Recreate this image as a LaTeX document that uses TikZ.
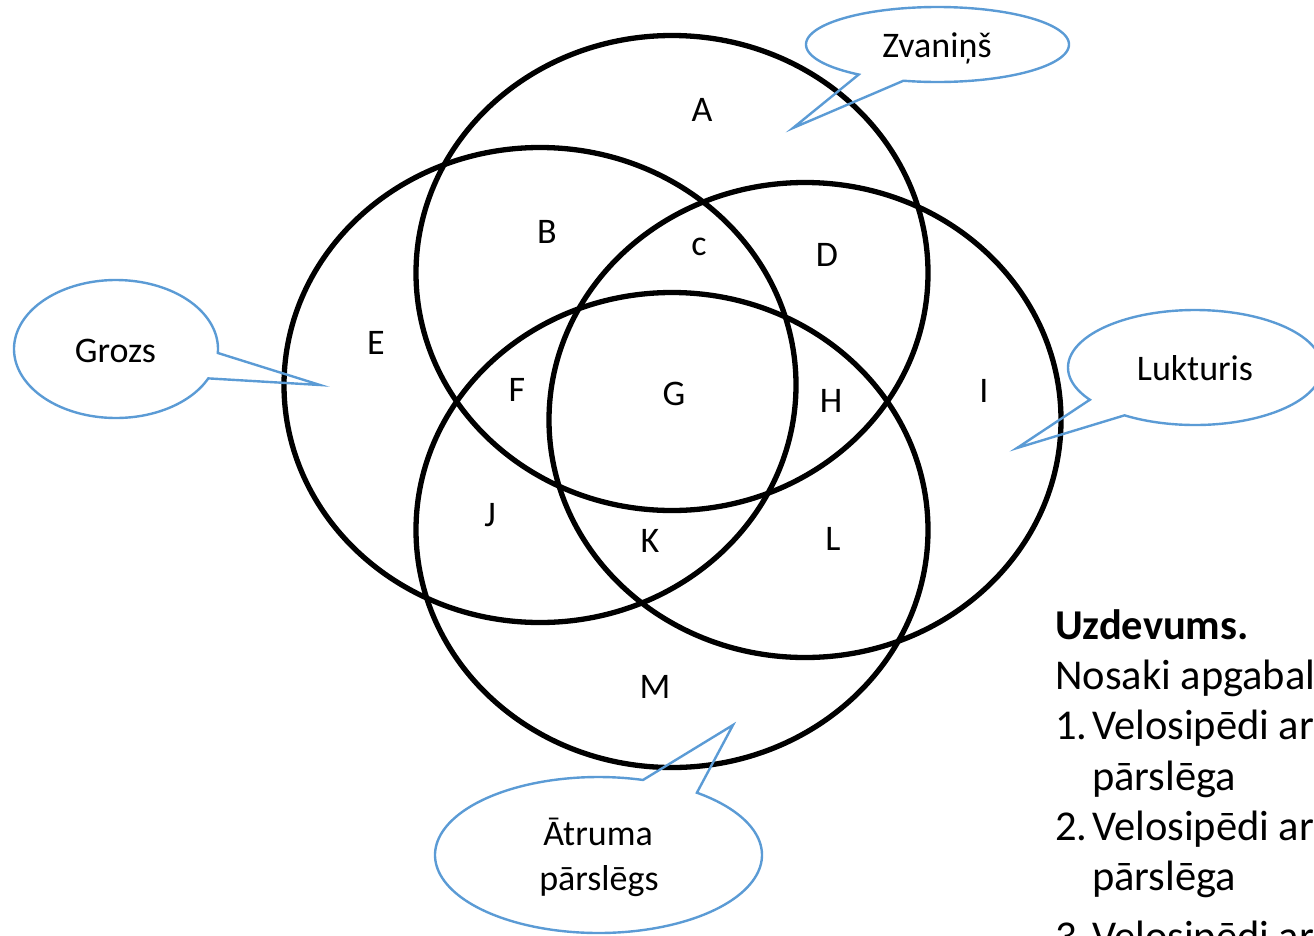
\documentclass[tikz,border=0pt]{standalone}
\usepackage{fontspec}
\setmainfont{Carlito}
\definecolor{callblue}{HTML}{5B9BD5}
\begin{document}
\begin{tikzpicture}[x=1pt,y=-1pt,
  venn/.style={line width=5.3pt,draw=black},
  bubble/.style={draw=callblue,line width=2.4pt,line join=miter},
  lbl/.style={anchor=base,inner sep=0pt,font=\fontsize{36}{43}\selectfont},
  task/.style={anchor=base west,inner sep=0pt,font=\fontsize{42.5}{50}\selectfont}]
\useasboundingbox (0,0) rectangle (1314,935);
\clip (0,0) rectangle (1314,935);
% Venn ellipses
\draw[venn] (672,273) ellipse [x radius=256pt, y radius=237.5pt];
\draw[venn] (540,385) ellipse [x radius=256pt, y radius=237.5pt];
\draw[venn] (805,420) ellipse [x radius=256pt, y radius=237.5pt];
\draw[venn] (672,530) ellipse [x radius=256pt, y radius=237.5pt];
% region labels
\node[lbl] (lA) at (702,121.5) {A};
\node[lbl] (lB) at (547,243) {B};
\node[lbl] (lc) at (699,255) {c};
\node[lbl] (lD) at (827,266.5) {D};
\node[lbl] (lE) at (376,354) {E};
\node[lbl] (lF) at (517,401.5) {F};
\node[lbl] (lG) at (674,405) {G};
\node[lbl] (lH) at (831,412.5) {H};
\node[lbl] (lI) at (984,402.5) {I};
\node[lbl] (lJ) at (490,526.5) {J};
\node[lbl] (lK) at (650,552.5) {K};
\node[lbl] (lL) at (833,550.5) {L};
\node[lbl] (lM) at (655,698) {M};
% callouts
\draw[bubble] plot[domain=126.8:465,samples=150,smooth] ({937.5+131.5*cos(\x)},{44.5+37.5*sin(\x)}) -- (793,128) -- cycle;
\node[lbl] (zv) at (937,57) {Zvaniņš};
\draw[bubble] plot[domain=25.2:363.3,samples=150,smooth] ({116+102*cos(\x)},{349+69*sin(\x)}) -- (320,385) -- cycle;
\node[lbl] (gr) at (115.5,362) {Grozs};
\draw[bubble] plot[domain=145.9:483.7,samples=150,smooth] ({1195+127*cos(\x)},{367.5+57.5*sin(\x)}) -- (1017,448) -- cycle;
\node[lbl] (lu) at (1195,380) {Lukturis};
\draw[bubble] plot[domain=307:645.8,samples=150,smooth] ({598.5+163.5*cos(\x)},{855+78*sin(\x)}) -- (733,725) -- cycle;
\node[lbl] (at1) at (598,845) {Ātruma};
\node[lbl] (at2) at (599,890) {pārslēgs};
% task text
\node[task] (uzd) at (1055,639) {\bfseries Uzdevums.};
\node[task] (nos) at (1055,689) {Nosaki apgabal};
\node[task] (n1) at (1055,739) {1.};
\node[task] (v1) at (1092,739) {Velosipēdi ar};
\node[task] (p1) at (1092,790) {pārslēga};
\node[task] (n2) at (1055,840) {2.};
\node[task] (v2) at (1092,840) {Velosipēdi ar};
\node[task] (p2) at (1092,890) {pārslēga};
\node[task] (n3) at (1055,950) {3.};
\node[task] (v3) at (1092,950) {Velosipēdi ar};
\end{tikzpicture}
\end{document}
